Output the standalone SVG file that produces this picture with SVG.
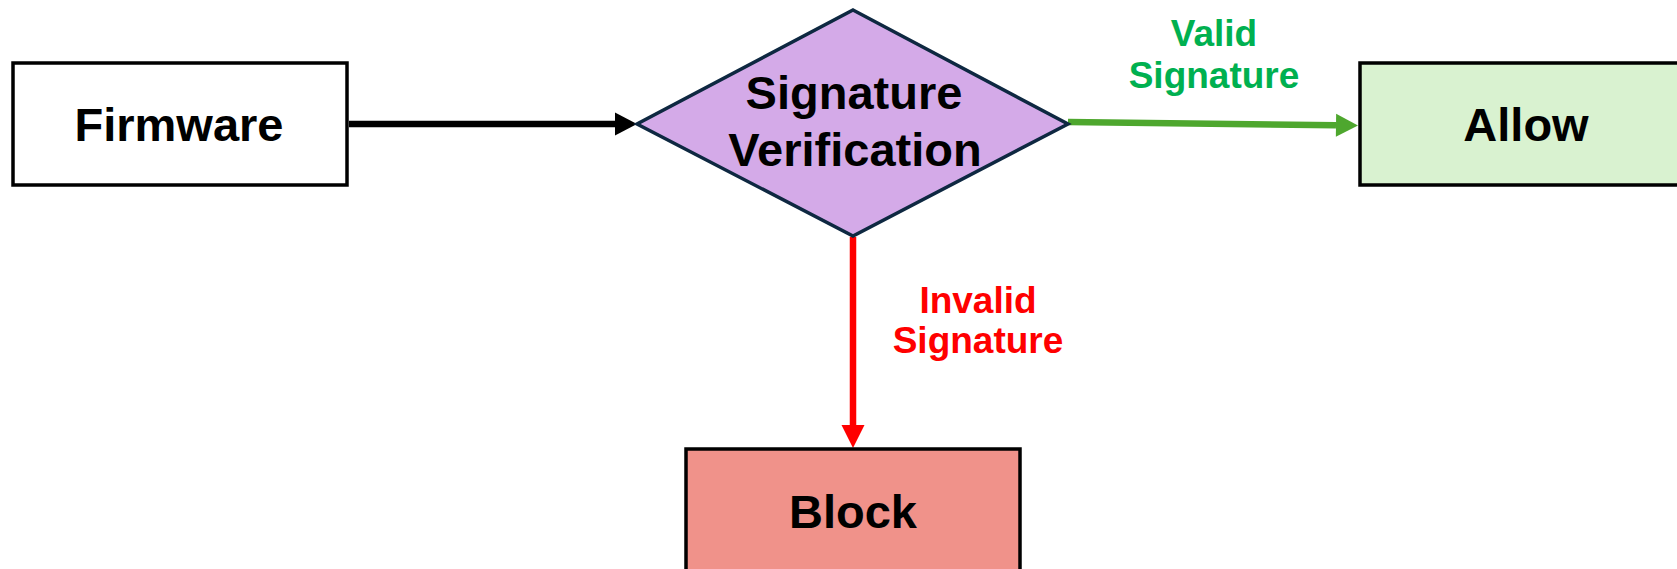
<svg xmlns="http://www.w3.org/2000/svg" width="1677" height="569" viewBox="0 0 1677 569">
  <style>
    .box { stroke: #000000; stroke-width: 3.5; }
    .node-text { font-family: "Liberation Sans", Arial, sans-serif; font-weight: bold; font-size: 47px; fill: #000000; text-anchor: middle; }
    .label { font-family: "Liberation Sans", Arial, sans-serif; font-weight: bold; font-size: 37px; text-anchor: middle; }
    .conn { fill: none; stroke-width: 6.5; stroke-linecap: butt; }
  </style>
  <defs>
    <marker id="arrow-black" markerUnits="userSpaceOnUse" markerWidth="23" markerHeight="23" refX="0" refY="11.5" orient="auto" overflow="visible">
      <path d="M0,0 L22,11.5 L0,23 Z" fill="#000000"/>
    </marker>
    <marker id="arrow-green" markerUnits="userSpaceOnUse" markerWidth="23" markerHeight="23" refX="0" refY="11.5" orient="auto" overflow="visible">
      <path d="M0,0 L22,11.5 L0,23 Z" fill="#4EA72E"/>
    </marker>
    <marker id="arrow-red" markerUnits="userSpaceOnUse" markerWidth="23" markerHeight="23" refX="0" refY="11.5" orient="auto" overflow="visible">
      <path d="M0,0 L23,11.5 L0,23 Z" fill="#FF0000"/>
    </marker>
  </defs>

  <g id="connectors">
    <line class="conn" x1="349" y1="124" x2="615" y2="124" stroke="#000000" marker-end="url(#arrow-black)"/>
    <line class="conn" x1="1068" y1="122" x2="1336" y2="125.3" stroke="#4EA72E" marker-end="url(#arrow-green)"/>
    <line class="conn" x1="853" y1="237" x2="853" y2="425" stroke="#FF0000" marker-end="url(#arrow-red)"/>
    <g id="label-valid" class="label" fill="#00B050">
      <text x="1214" y="46">Valid</text>
      <text x="1214" y="88">Signature</text>
    </g>
    <g id="label-invalid" class="label" fill="#FF0000">
      <text x="978" y="313">Invalid</text>
      <text x="978" y="353">Signature</text>
    </g>
  </g>

  <g id="node-firmware">
    <rect class="box" x="13" y="63" width="334" height="122" fill="#FFFFFF"/>
    <text class="node-text" x="179" y="141">Firmware</text>
  </g>

  <g id="node-verification">
    <polygon points="853,10 1068,124 853,236 637,124" fill="#D4AAE8" stroke="#0E2841" stroke-width="3.5" stroke-linejoin="miter"/>
    <text class="node-text" x="854" y="109">Signature</text>
    <text class="node-text" x="855" y="166">Verification</text>
  </g>

  <g id="node-allow">
    <rect class="box" x="1360" y="63" width="334" height="122" fill="#D9F2D0"/>
    <text class="node-text" x="1526" y="141">Allow</text>
  </g>

  <g id="node-block">
    <rect class="box" x="686" y="449" width="334" height="124" fill="#F0928A"/>
    <text class="node-text" x="853" y="528">Block</text>
  </g>
</svg>
